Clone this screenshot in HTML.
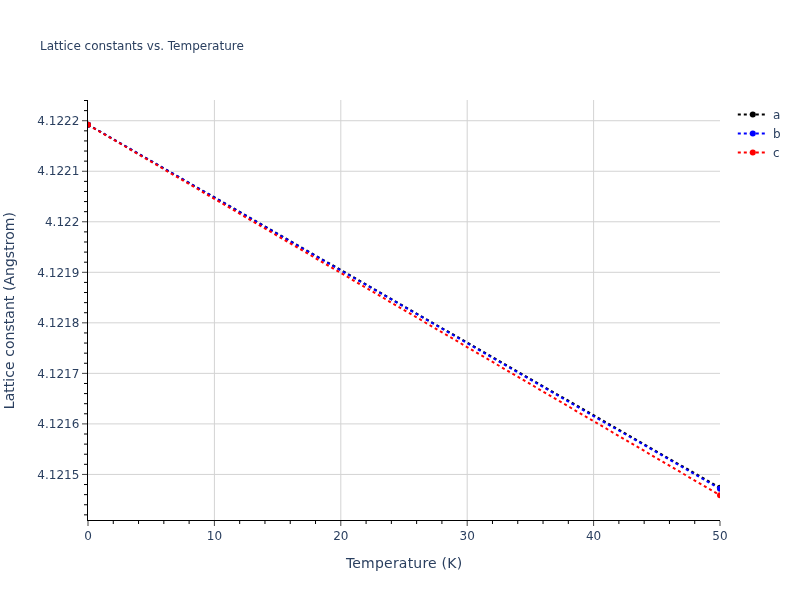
<!DOCTYPE html>
<html><head><meta charset="utf-8"><title>Lattice constants vs. Temperature</title>
<style>
html,body{margin:0;padding:0;background:#fff;}
body{width:800px;height:600px;overflow:hidden;}
svg{display:block;}
text{font-family:"DejaVu Sans","Liberation Sans",sans-serif;fill:#2a3f5f;}
</style></head><body>
<svg width="800" height="600" viewBox="0 0 800 600">
<rect width="800" height="600" fill="#fff"/>
<g stroke="#d3d3d3" stroke-width="1" fill="none">
<path d="M214.40,100V520"/><path d="M340.80,100V520"/><path d="M467.20,100V520"/><path d="M593.60,100V520"/><path d="M88,474.43H720"/><path d="M88,423.90H720"/><path d="M88,373.37H720"/><path d="M88,322.84H720"/><path d="M88,272.31H720"/><path d="M88,221.78H720"/><path d="M88,171.25H720"/><path d="M88,120.72H720"/></g>
<g stroke="#000" stroke-width="1" fill="none">
<path d="M87,514.85h-3"/><path d="M87,504.75h-3"/><path d="M87,494.64h-3"/><path d="M87,484.54h-3"/><path d="M87,464.32h-3"/><path d="M87,454.22h-3"/><path d="M87,444.11h-3"/><path d="M87,434.01h-3"/><path d="M87,413.79h-3"/><path d="M87,403.69h-3"/><path d="M87,393.58h-3"/><path d="M87,383.48h-3"/><path d="M87,363.26h-3"/><path d="M87,353.16h-3"/><path d="M87,343.05h-3"/><path d="M87,332.95h-3"/><path d="M87,312.73h-3"/><path d="M87,302.63h-3"/><path d="M87,292.52h-3"/><path d="M87,282.42h-3"/><path d="M87,262.20h-3"/><path d="M87,252.10h-3"/><path d="M87,241.99h-3"/><path d="M87,231.89h-3"/><path d="M87,211.67h-3"/><path d="M87,201.57h-3"/><path d="M87,191.46h-3"/><path d="M87,181.36h-3"/><path d="M87,161.14h-3"/><path d="M87,151.04h-3"/><path d="M87,140.93h-3"/><path d="M87,130.83h-3"/><path d="M87,110.61h-3"/><path d="M87,100.51h-3"/><path d="M113.28,521v3"/><path d="M138.56,521v3"/><path d="M163.84,521v3"/><path d="M189.12,521v3"/><path d="M239.68,521v3"/><path d="M264.96,521v3"/><path d="M290.24,521v3"/><path d="M315.52,521v3"/><path d="M366.08,521v3"/><path d="M391.36,521v3"/><path d="M416.64,521v3"/><path d="M441.92,521v3"/><path d="M492.48,521v3"/><path d="M517.76,521v3"/><path d="M543.04,521v3"/><path d="M568.32,521v3"/><path d="M618.88,521v3"/><path d="M644.16,521v3"/><path d="M669.44,521v3"/><path d="M694.72,521v3"/></g>
<g stroke="#444" stroke-width="1" fill="none">
<path d="M87,474.43h-5"/><path d="M87,423.90h-5"/><path d="M87,373.37h-5"/><path d="M87,322.84h-5"/><path d="M87,272.31h-5"/><path d="M87,221.78h-5"/><path d="M87,171.25h-5"/><path d="M87,120.72h-5"/><path d="M88.00,521v5"/><path d="M214.40,521v5"/><path d="M340.80,521v5"/><path d="M467.20,521v5"/><path d="M593.60,521v5"/><path d="M720.00,521v5"/></g>
<path d="M87.5,100V521" stroke="#000" stroke-width="1" fill="none"/>
<path d="M87,520.5H720" stroke="#000" stroke-width="1" fill="none"/>
<defs><clipPath id="c"><rect x="88" y="100" width="632" height="420"/></clipPath></defs>
<g clip-path="url(#c)">
<path d="M88,124.75L720,487.85" stroke="#000" stroke-width="2" stroke-dasharray="3,3" fill="none"/><circle cx="88" cy="124.75" r="3" fill="#000"/><circle cx="720" cy="487.85" r="3" fill="#000"/>
<path d="M88,124.75L720,488.85" stroke="#00f" stroke-width="2" stroke-dasharray="3,3" fill="none"/><circle cx="88" cy="124.75" r="3" fill="#00f"/><circle cx="720" cy="488.85" r="3" fill="#00f"/>
<path d="M88,124.75L720,495.3" stroke="#f00" stroke-width="2" stroke-dasharray="3,3" fill="none"/><circle cx="88" cy="124.75" r="3" fill="#f00"/><circle cx="720" cy="495.3" r="3" fill="#f00"/>
</g>
<path d="M737.8,114.5h30" stroke="#000" stroke-width="2" stroke-dasharray="3,3" fill="none"/><circle cx="752.8" cy="114.5" r="3" fill="#000"/><text x="773.1" y="118.7" font-size="12">a</text>
<path d="M737.8,133.5h30" stroke="#00f" stroke-width="2" stroke-dasharray="3,3" fill="none"/><circle cx="752.8" cy="133.5" r="3" fill="#00f"/><text x="773.1" y="137.7" font-size="12">b</text>
<path d="M737.8,152.5h30" stroke="#f00" stroke-width="2" stroke-dasharray="3,3" fill="none"/><circle cx="752.8" cy="152.5" r="3" fill="#f00"/><text x="773.1" y="156.7" font-size="12">c</text>
<text x="79.3" y="478.63" font-size="12" text-anchor="end">4.1215</text><text x="79.3" y="428.10" font-size="12" text-anchor="end">4.1216</text><text x="79.3" y="377.57" font-size="12" text-anchor="end">4.1217</text><text x="79.3" y="327.04" font-size="12" text-anchor="end">4.1218</text><text x="79.3" y="276.51" font-size="12" text-anchor="end">4.1219</text><text x="79.3" y="225.98" font-size="12" text-anchor="end">4.122</text><text x="79.3" y="175.45" font-size="12" text-anchor="end">4.1221</text><text x="79.3" y="124.92" font-size="12" text-anchor="end">4.1222</text>
<text x="88.00" y="539.8" font-size="12" text-anchor="middle">0</text><text x="214.40" y="539.8" font-size="12" text-anchor="middle">10</text><text x="340.80" y="539.8" font-size="12" text-anchor="middle">20</text><text x="467.20" y="539.8" font-size="12" text-anchor="middle">30</text><text x="593.60" y="539.8" font-size="12" text-anchor="middle">40</text><text x="720.00" y="539.8" font-size="12" text-anchor="middle">50</text>
<text x="404" y="568" font-size="14" text-anchor="middle" textLength="116.2" lengthAdjust="spacing">Temperature (K)</text>
<text transform="translate(14.4,310.6) rotate(-90)" font-size="14" text-anchor="middle" textLength="197.2" lengthAdjust="spacing">Lattice constant (Angstrom)</text>
<text x="40" y="50" font-size="12">Lattice constants vs. Temperature</text>
</svg>
</body></html>
